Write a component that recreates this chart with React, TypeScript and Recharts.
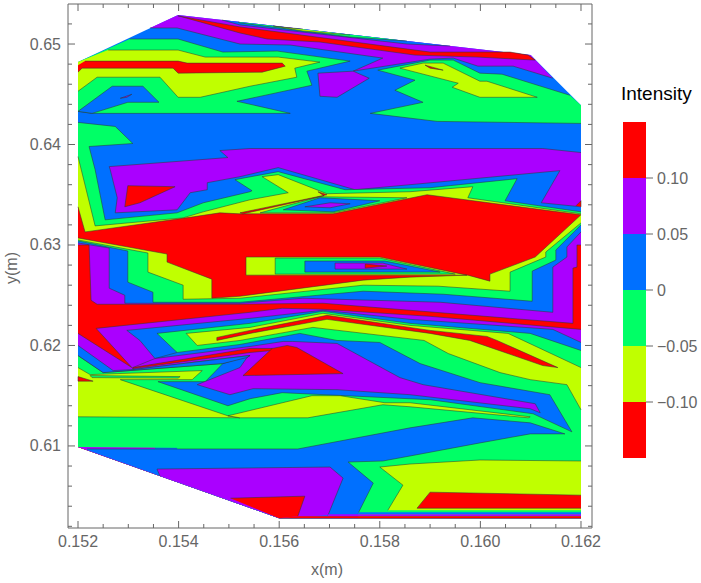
import React from "react";
import { ScatterChart, Scatter, XAxis, YAxis, BarChart, Bar } from "recharts";

type P = number[];
type Layer = { color: string; edge: P[]; close?: P[]; ring?: boolean };

const RED = "#ff0000", PURPLE = "#aa00ff", BLUE = "#0070ff", GREEN = "#00ff66", LIME = "#c0ff00";

// every contour vertex below is [x in mm, y in mm]
const hullOutline: P[] = [[152,648.2],[153.99,652.9],[161,648.9],[162,643.9],[162,602.8],[156,602.8],[152,609.9]];
const hullBottom: P[] = [[162,602.8],[156,602.8],[152,609.9]];

const purpleTop: P[] = [[161.44,646.6],[160.65,647.8],[159.95,647.8],[159.46,648.6],[159,648.5],[157.47,647.3],[158.06,648.6],[156.22,649.9],[155.22,650],[153.97,651.6],[153.43,651.6]];
const purpleTopClose: P[] = [[153.99,652.9],[161,648.9]];
const blueRim: P[] = [[154.86,652.4],[155.22,651.9],[158.54,650],[159.4,649.8]];
const greenRim: P[] = [[155.18,652.2],[155.22,652.1],[157.41,650.7],[158.54,650.3]];
const limeRim: P[] = [[155.88,651.8],[156.47,651.3],[157.41,650.9]];
const redRim: P[] = [[155.88,651.8],[156.22,651.6],[156.47,651.5]];
const redTopBand: P[] = [[153.99,652.8],[155.22,651.7],[159,649.2],[160.59,649.2],[160.95,648.9],[161.09,648.4],[159.95,648.7],[158.7,648.9],[156.81,650.2],[155.76,650.5],[155.22,651.1],[154.07,652.7]];
const greenUpper: P[] = [[153.03,650.5],[153.99,650.5],[154.88,649.2],[155.96,649.3],[157.41,648.3],[156.55,647.3],[156.65,645.9],[155.16,644.3],[156.22,643.1],[152.28,643.1],[152,643.3]];
const limeUpper: P[] = [[152.6,649.4],[153.99,649.4],[154.53,648.7],[155.98,648.7],[156.81,648.2],[156.31,647.6],[156.35,646.7],[155.42,645.8],[154.43,644.7],[153.99,644.7],[153.63,646.7],[152.38,646.7],[152,645.3]];
const redUpper: P[] = [[152.14,648.3],[153.99,648.3],[154.17,648.1],[156.06,648.1],[156.12,647.8],[155.66,647.2],[153.99,647.1],[153.89,647.6],[152.08,647.6],[152,647.2]];
const bluePatch: P[] = [[152,643.3],[152.68,645.8],[153.29,645.8],[153.61,644.2],[152.99,644.2],[152.28,643.1]];
const purpleSpeck: P[] = [[152.84,644.6],[153.07,645],[152.97,644.7]];
const greenRight: P[] = [[162,642.1],[159.14,642.3],[157.81,643.1],[158.86,644.2],[158.3,645.4],[158.7,646.4],[157.96,647.4],[159,648.4],[159.46,648.4],[159.99,647.1],[160.43,647],[161.78,644.9]];
const limeRight: P[] = [[158.4,647.6],[158.86,648.1],[159.26,648.1],[159.99,646.3],[160.13,646.3],[161.13,644.7],[159.99,644.7],[159.44,645.7],[159.56,646.1]];
const redSpeckRight: P[] = [[158.9,647.9],[159.26,647.4],[159,647.6]];
const purpleIsland: P[] = [[156.77,647.1],[157.47,647.3],[157.79,646.6],[157.15,644.7],[156.81,644.8]];

const purpleMiddle: P[] = [[162,633.8],[161.21,634.2],[161.58,637.4],[158.6,636],[157.51,635.5],[155.98,637.7],[155.22,636.8],[154.57,636.2],[154.57,635.5],[154.23,635.2],[153.97,633.5],[152.74,633.2],[152.78,634.7],[152.64,637.5],[152.62,637.8],[154.98,638.7],[154.82,639.4],[155.42,639.6],[159.99,639.6],[161.24,639.6],[162,639.2]];
const redPocket: P[] = [[152.99,635.9],[153.93,635.8],[153.23,634.2],[152.93,633.8]];
const redEdgeSpeck: P[] = [[161.9,633.9],[162,634.4],[162,633.8]];
const greenMiddle: P[] = [[152,642.2],[152.74,641.8],[153.09,640.1],[152.22,639.8],[152.34,637.5],[152.54,632.5],[153.97,633.2],[154.49,634.2],[155.42,635.3],[155.46,635.4],[155.12,636.5],[155.98,637.3],[157.31,635.5],[159,635.7],[160.73,636.6],[160.49,634.4],[162,633.3]];
const limeMiddle: P[] = [[152,638.8],[152.34,631.9],[154.09,632.7],[154.49,633.3],[155.42,634.5],[156.18,635.2],[155.66,636.8],[155.98,637],[156.95,635.1],[158.6,635.3],[159.85,635.8],[159.75,634.7],[162,633.1]];
const redCore: P[] = [[152,633.8],[152.14,631.3],[154.29,632.8],[154.82,633.2],[155.22,633.1],[157.07,633.1],[158.94,635],[162,633]];
const diamondGreen: P[] = [[155.62,633.2],[156.81,634.8],[158.54,634.7],[157.07,633.2]];
const diamondBlue: P[] = [[156.08,633.5],[156.81,634.7],[158,634.4],[157.07,633.3]];
const diamondPurple: P[] = [[156.51,633.8],[157.01,634.2],[157.41,634.1],[157.01,633.7]];
const redSliver: P[] = [[155.22,633.2],[156.95,635],[156.77,635.3],[156.89,634.9],[155.28,633.1]];

const limeStair: P[] = [[152,630.7],[153.77,629.1],[153.77,628.3],[154.66,626.6],[154.66,624.7],[155.22,624.9],[157.67,626.5],[158.6,626.8],[159.75,627],[160.19,626.4],[160.19,627.1],[161.09,628.8],[162,633]];
const greenStair: P[] = [[152,630.5],[153.39,629.2],[153.39,627.3],[154.09,626],[154.09,624.6],[155.22,624.7],[157.67,626],[159.16,625.9],[160.59,625.4],[160.59,627.3],[161.3,628.8],[161.3,629.3],[162,632.2]];
const blueStair: P[] = [[152,630.4],[152.99,629.4],[152.99,626.3],[153.49,625.3],[153.49,624.3],[155.22,624.3],[157.67,625.4],[159.26,625.1],[161.03,624.4],[161.03,627.4],[161.5,628.5],[161.5,629.5],[162,632]];
const purpleStair: P[] = [[152,630.2],[152.62,629.7],[152.62,625.7],[152.93,625],[152.93,624.2],[155.22,624.2],[156.47,624.7],[159.2,624.3],[161.44,623.3],[161.44,627.8],[161.72,628.8],[161.72,629.8],[162,631.3]];
const redStair: P[] = [[152,630],[152.22,630],[152.26,624.5],[152.38,624.1],[155.22,624.1],[156.87,624.2],[158.6,623.5],[161.84,622.2],[161.84,627.7],[161.92,627.8],[161.92,630],[162,630]];
const wedgeLime: P[] = [[155.34,628.8],[158,628.8],[159.73,627],[155.34,627]];
const wedgeGreen: P[] = [[155.92,628.7],[158,628.7],[159.5,627.1],[155.92,627.1]];
const wedgeBlue: P[] = [[156.51,628.4],[158.1,628.4],[159.2,627.3],[156.51,627.3]];
const wedgePurple: P[] = [[157.11,628.2],[158.06,628.2],[158.54,627.6],[157.11,627.6]];
const wedgeRed: P[] = [[157.71,628.1],[158.14,627.9],[157.71,627.7]];

const purpleLow: P[] = [[152,621.2],[153.07,617.8],[152.36,621.7],[155.42,623.3],[156.06,623.7],[156.87,623.6],[159,622.9],[162,621.6]];
const blueLow: P[] = [[153.53,618.7],[153.23,620.5],[152.97,621.5],[155.42,622.7],[156.87,623.5],[158.6,622.6],[161.44,621.6],[162,620.3]];
const blueLowClose: P[] = [[162,602.8],[156,602.8],[153.53,607.2]];
const greenLow: P[] = [[153.97,619.3],[153.57,621.2],[155.42,622.2],[156.87,623.4],[158.6,622.2],[160.99,621.2],[162,619.5]];
const greenLowClose: P[] = [[162,602.8],[156,602.8],[153.97,606.4]];
const limeLow: P[] = [[162,613.6],[161.72,616.1],[160.99,616.6],[160.39,617.3],[159.36,619.2],[158.88,620.5],[156.67,621.8],[155.22,620.5],[154.37,620],[154.15,621.2],[155.42,621.8],[156.87,623.2],[158.6,622],[160.55,621.2],[160.85,620.5],[162,617.8]];
const redStreak: P[] = [[154.76,620.8],[155.42,621.5],[156.95,623],[159,621.5],[160.13,620.9],[160.33,620.5],[161.54,617.8],[161.24,618],[159.79,620.5],[159,621.2],[156.95,622.6],[155.42,621.2],[154.76,620.5]];
const greenLeft: P[] = [[152,619],[152.5,617.3],[154.88,618.2],[155.42,618.9]];
const greenLeftClose: P[] = [[156.41,619.5],[156.41,609.7],[152,609.9]];
const blueBelt: P[] = [[153.53,618.7],[153.97,619.3],[155.22,620.1],[156.41,621.2],[157.15,620.5],[158,620.3],[158.8,618.2],[159.99,616.3],[161.38,615.1],[161.82,611.4],[161.05,613.2],[159,614.6],[156.06,615.3],[155.42,614.7],[154.98,614],[153.59,616.4],[154.53,616.4],[154.88,618.2],[155.42,619]];
const purpleBelt: P[] = [[153.09,617.8],[153.53,618.7],[155.42,619.9],[156.08,620.4],[156.27,620.4],[157.15,620.2],[158.4,616.8],[158.86,616.1],[161.09,614.2],[161.19,613.3],[160.99,613.7],[158.6,615.1],[157.15,615.6],[155.48,615.7],[155.02,615.1],[154.37,616.1],[155.22,617.8],[155.36,618.8],[155.42,619],[153.09,617.6]];
const redLine: P[] = [[153.09,617.8],[155.42,619.7],[155.86,619.7],[155.86,619.5],[155.42,619.3],[153.09,617.7]];
const redHill: P[] = [[155.28,617],[155.86,619.7],[156.16,620],[156.35,619.8],[157.27,617.2]];
const blueLeft: P[] = [[152,619],[152.5,617.3],[154.88,618.2],[155.36,618.8],[155.42,619],[153.09,617.6],[152.7,617.5],[152,620]];
const limeLeft: P[] = [[152,617.8],[152.24,617.1],[154.47,617.5],[154.27,616.6],[152.84,616.6],[154.98,613],[155.22,612.8],[152,612.9]];
const limeCentre: P[] = [[154.98,613],[156.65,615],[157.21,615],[158.1,614.3],[158.6,614.3],[160.99,612.9],[160.95,612.8],[158.6,613.9],[158.06,614.1],[156.57,612.8],[155.22,612.8]];
const greenSliver: P[] = [[152.24,617],[154.03,616.9],[153.99,616.75],[152.28,616.8]];
const redTiny: P[] = [[152,616.9],[152.3,616.45],[152,616.45]];
const blueBottom: P[] = [[152.18,609.7],[156.37,609.7],[158.6,611.8],[159.85,612.8],[160.99,612.3],[161.68,611.2],[160.99,611.2],[159.99,610.3],[158.6,609],[158.06,608.5],[157.37,608.4],[157.87,606.3],[157.57,603.3]];
const blueBottomClose: P[] = [[157.57,602.8],[156,602.8],[152.18,609.6]];
const purpleBottom: P[] = [[153.63,607],[153.57,607.7],[157.01,607.9],[157.27,606.8],[156.97,603.1]];
const redBottomLeft: P[] = [[155.03,604.8],[156.51,605],[156.37,603]];
const limeBottom: P[] = [[158.16,603.6],[158.46,606.1],[158,607.9],[158.6,608.2],[159.99,608.6],[162,608.5]];
const redBottomRight: P[] = [[162,603.8],[158.74,603.8],[159,605.4],[162,605.1]];
const stripeBlue: P[] = [[157.57,603.4],[162,603.4],[162,603.2],[157.57,603.2]];
const stripePurple: P[] = [[156.97,603.2],[162,603.2],[162,603],[156.97,603]];
const stripeRed: P[] = [[156.37,603],[162,603],[162,602.8],[156,602.8]];

const layers: Layer[] = [
  { color: BLUE, edge: [], close: hullOutline },
  { color: PURPLE, edge: purpleTop, close: purpleTopClose },
  { color: BLUE, edge: blueRim },
  { color: GREEN, edge: greenRim },
  { color: LIME, edge: limeRim },
  { color: RED, edge: redRim },
  { color: RED, edge: redTopBand, ring: true },
  { color: GREEN, edge: greenUpper, close: [[152,648.2]] },
  { color: LIME, edge: limeUpper, close: [[152,648.2]] },
  { color: RED, edge: redUpper, close: [[152,647.9]] },
  { color: BLUE, edge: bluePatch, ring: true },
  { color: PURPLE, edge: purpleSpeck, ring: true },
  { color: GREEN, edge: greenRight, close: [[162,643.9]] },
  { color: LIME, edge: limeRight, ring: true },
  { color: RED, edge: redSpeckRight, ring: true },
  { color: PURPLE, edge: purpleIsland, ring: true },
  { color: PURPLE, edge: purpleMiddle },
  { color: RED, edge: redPocket, ring: true },
  { color: RED, edge: redEdgeSpeck },
  { color: GREEN, edge: greenMiddle, close: hullBottom },
  { color: LIME, edge: limeMiddle, close: hullBottom },
  { color: RED, edge: redCore, close: hullBottom },
  { color: GREEN, edge: diamondGreen, ring: true },
  { color: BLUE, edge: diamondBlue, ring: true },
  { color: PURPLE, edge: diamondPurple, ring: true },
  { color: RED, edge: redSliver, ring: true },
  { color: LIME, edge: limeStair, close: hullBottom },
  { color: GREEN, edge: greenStair, close: hullBottom },
  { color: BLUE, edge: blueStair, close: hullBottom },
  { color: PURPLE, edge: purpleStair, close: hullBottom },
  { color: RED, edge: redStair, close: hullBottom },
  { color: LIME, edge: wedgeLime, ring: true },
  { color: GREEN, edge: wedgeGreen, ring: true },
  { color: BLUE, edge: wedgeBlue, ring: true },
  { color: PURPLE, edge: wedgePurple, ring: true },
  { color: RED, edge: wedgeRed, ring: true },
  { color: PURPLE, edge: purpleLow, close: hullBottom },
  { color: BLUE, edge: blueLow, close: blueLowClose },
  { color: GREEN, edge: greenLow, close: greenLowClose },
  { color: LIME, edge: limeLow },
  { color: RED, edge: redStreak, ring: true },
  { color: GREEN, edge: greenLeft, close: greenLeftClose },
  { color: BLUE, edge: blueBelt, ring: true },
  { color: PURPLE, edge: purpleBelt, ring: true },
  { color: RED, edge: redLine, ring: true },
  { color: RED, edge: redHill, ring: true },
  { color: BLUE, edge: blueLeft },
  { color: LIME, edge: limeLeft },
  { color: LIME, edge: limeCentre, ring: true },
  { color: GREEN, edge: greenSliver, ring: true },
  { color: RED, edge: redTiny, ring: true },
  { color: BLUE, edge: blueBottom, close: blueBottomClose },
  { color: PURPLE, edge: purpleBottom, close: [[156,602.8]] },
  { color: RED, edge: redBottomLeft, close: [[156,602.8]] },
  { color: LIME, edge: limeBottom, close: [[162,603.6]] },
  { color: RED, edge: redBottomRight },
  { color: BLUE, edge: [], close: stripeBlue },
  { color: PURPLE, edge: [], close: stripePurple },
  { color: RED, edge: [], close: stripeRed },
];

const xMajor = [0.152, 0.154, 0.156, 0.158, 0.16, 0.162];
const xMinor = [0.1525, 0.153, 0.1535, 0.1545, 0.155, 0.1555, 0.1565, 0.157, 0.1575, 0.1585, 0.159, 0.1595, 0.1605, 0.161, 0.1615];
const yMajor = [0.61, 0.62, 0.63, 0.64, 0.65];
const yMinor = [0.602, 0.604, 0.606, 0.608, 0.612, 0.614, 0.616, 0.618, 0.622, 0.624, 0.626, 0.628, 0.632, 0.634, 0.636, 0.638, 0.642, 0.644, 0.646, 0.648, 0.652];
const xDomain = [0.151801, 0.162219];
const yDomain = [0.601833, 0.653984];

const legendNames = ["low3", "low2", "low1", "up1", "up2", "up3"];
const legendValues = [-0.05, -0.05, -0.05, 0.05, 0.05, 0.05];
const legendColors = [LIME, RED, GREEN, BLUE, PURPLE, RED];
const legendOrder = [2, 0, 1, 3, 4, 5];
const legendTicks = [-0.1, -0.05, 0, 0.05, 0.1];
const legendRow = [
  Object.fromEntries([["k", "Intensity"], ...legendNames.map((n, i) => [n, legendValues[i]])]),
];

const GRAY = "#666666";
const FONT = "'Liberation Sans', Arial, sans-serif";
const m = (pts: P[]) => pts.map(([x, y]) => ({ x: x / 1000, y: y / 1000 }));
const isMajor = (list: number[], v: number) => list.some((t) => Math.abs(t - v) < 1e-9);
const none = () => <g />;

const BottomTick = (p: any) => {
  const major = isMajor(xMajor, p.payload.value);
  return (
    <g>
      <line x1={p.x} x2={p.x} y1={p.y} y2={p.y - (major ? 7 : 4)} stroke={GRAY} />
      {major && (
        <text x={p.x} y={p.y + 19} textAnchor="middle" fill={GRAY} fontSize={16} fontFamily={FONT}>
          {p.payload.value.toFixed(3)}
        </text>
      )}
    </g>
  );
};
const TopTick = (p: any) => (
  <line x1={p.x} x2={p.x} y1={p.y} y2={p.y + (isMajor(xMajor, p.payload.value) ? 7 : 4)} stroke={GRAY} />
);
const LeftTick = (p: any) => {
  const major = isMajor(yMajor, p.payload.value);
  return (
    <g>
      <line x1={p.x} x2={p.x + (major ? 7 : 4)} y1={p.y} y2={p.y} stroke={GRAY} />
      {major && (
        <text x={p.x - 7} y={p.y + 5.5} textAnchor="end" fill={GRAY} fontSize={16} fontFamily={FONT}>
          {p.payload.value.toFixed(2)}
        </text>
      )}
    </g>
  );
};
const RightTick = (p: any) => (
  <line x1={p.x} x2={p.x - (isMajor(yMajor, p.payload.value) ? 7 : 4)} y1={p.y} y2={p.y} stroke={GRAY} />
);
const legendLabel = (v: number) => {
  if (v === 0) return "0";
  return (v < 0 ? "\u2212" : "") + Math.abs(v).toFixed(2);
};

export default function App() {
  const xTicks = [...xMajor, ...xMinor].sort((a, b) => a - b);
  const yTicks = [...yMajor, ...yMinor].sort((a, b) => a - b);
  return (
    <div style={{ position: "absolute", left: 0, top: 0, width: 701, height: 583, background: "#fff", overflow: "hidden" }}>
      <ScatterChart width={701} height={583} margin={{ top: 3, right: 108, bottom: 0, left: 0 }}>
        <XAxis xAxisId="b" type="number" dataKey="x" orientation="bottom" height={55} domain={xDomain} allowDataOverflow ticks={xTicks} interval={0} tick={BottomTick} tickLine={false} tickSize={0} tickMargin={0} axisLine={{ stroke: GRAY }} />
        <XAxis xAxisId="t" type="number" dataKey="x" orientation="top" height={1} domain={xDomain} allowDataOverflow ticks={xTicks} interval={0} tick={TopTick} tickLine={false} tickSize={0} tickMargin={0} axisLine={{ stroke: GRAY }} />
        <YAxis yAxisId="l" type="number" dataKey="y" orientation="left" width={68} domain={yDomain} allowDataOverflow ticks={yTicks} interval={0} tick={LeftTick} tickLine={false} tickSize={0} tickMargin={0} axisLine={{ stroke: GRAY }} />
        <YAxis yAxisId="r" type="number" dataKey="y" orientation="right" width={1} domain={yDomain} allowDataOverflow ticks={yTicks} interval={0} tick={RightTick} tickLine={false} tickSize={0} tickMargin={0} axisLine={{ stroke: GRAY }} />
        {layers.flatMap((l, i) => {
          const fillPts = m([...l.edge, ...(l.close ?? [])]);
          const out = [
            <Scatter key={`f${i}`} xAxisId="b" yAxisId="l" data={fillPts} shape={none} isAnimationActive={false} line={{ fill: l.color, stroke: "none" }} lineJointType="linearClosed" />,
          ];
          if (l.edge.length) {
            out.push(
              <Scatter key={`s${i}`} xAxisId="b" yAxisId="l" data={m(l.ring ? [...l.edge, l.edge[0]] : l.edge)} shape={none} isAnimationActive={false} line={{ fill: "none", stroke: "#2c3a30", strokeWidth: 0.7, strokeOpacity: 0.75 }} lineJointType="linear" />
            );
          }
          return out;
        })}
      </ScatterChart>

      <div style={{ position: "absolute", left: 0, top: 561, width: 654, textAlign: "center", font: `16px ${FONT}`, color: GRAY }}>x(m)</div>
      <div style={{ position: "absolute", left: 12, top: 268, transform: "translate(-50%,-50%) rotate(-90deg)", font: `16px ${FONT}`, color: GRAY, whiteSpace: "nowrap" }}>y(m)</div>
      <div style={{ position: "absolute", left: 621, top: 83, font: `19px ${FONT}`, color: "#000", whiteSpace: "nowrap" }}>Intensity</div>

      <div style={{ position: "absolute", left: 623, top: 112 }}>
        <BarChart width={78} height={356} data={legendRow} margin={{ top: 10, right: 0, bottom: 10, left: 0 }} barCategoryGap={0} barGap={0} stackOffset="sign">
          <XAxis dataKey="k" hide />
          <YAxis orientation="right" type="number" width={55} domain={[-0.15, 0.15]} ticks={legendTicks} interval={0} tickSize={7} tickMargin={4} tickLine={{ stroke: GRAY }} axisLine={false} tickFormatter={legendLabel} tick={{ fill: GRAY, fontSize: 16, fontFamily: FONT }} />
          {legendOrder.map((i) => (
            <Bar key={legendNames[i]} dataKey={legendNames[i]} stackId="bands" fill={legendColors[i]} isAnimationActive={false} />
          ))}
        </BarChart>
      </div>
    </div>
  );
}
